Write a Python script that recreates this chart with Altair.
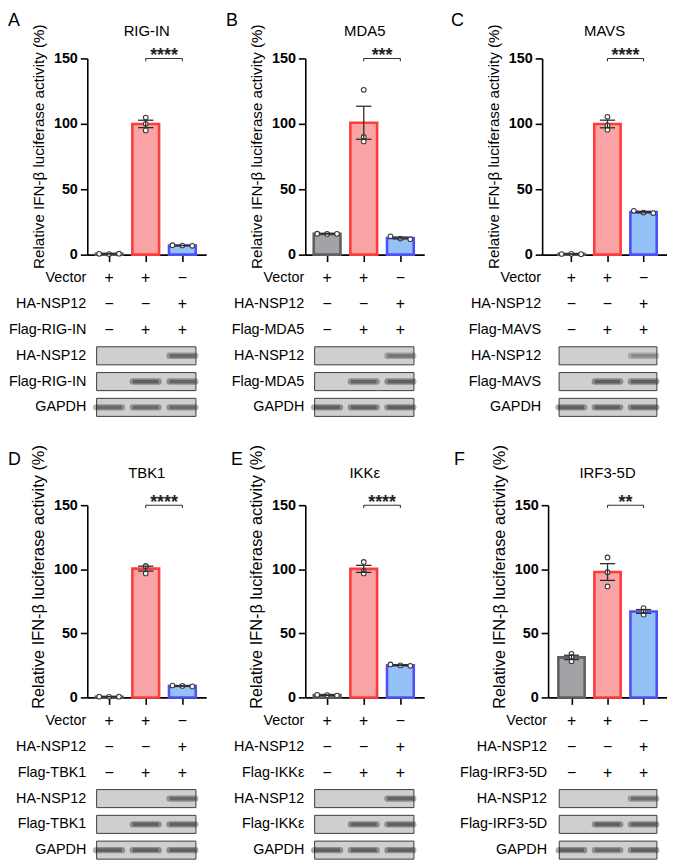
import altair as alt
import pandas as pd

FONT = "Liberation Sans, Arial, Helvetica, sans-serif"

# ---------------- data ----------------
panel_letters = ["A", "B", "C", "D", "E", "F"]
targets = ["RIG-IN", "MDA5", "MAVS", "TBK1", "IKKε", "IRF3-5D"]
stars = ["****", "***", "****", "****", "****", "**"]
sig_pair = [2, 3]

group_names = ["Vector", "Vector+Flag", "NSP12+Flag"]
lanes = [1, 2, 3]

rep_A = [[0.6, 0.5, 0.7], [104.8, 100.0, 95.0], [7.2, 7.0, 6.8]]
rep_B = [[16.0, 15.8, 15.9], [126.0, 90.0, 86.5], [14.0, 12.3, 11.8]]
rep_C = [[0.5, 0.6, 0.4], [105.4, 98.8, 95.5], [33.5, 32.2, 31.8]]
rep_D = [[0.6, 0.5, 0.6], [102.4, 102.4, 96.7], [9.3, 9.0, 8.6]]
rep_E = [[2.0, 1.8, 1.5], [105.7, 98.5, 96.7], [25.7, 25.0, 24.7]]
rep_F = [[34.0, 31.5, 28.2], [109.2, 97.7, 86.6], [69.7, 66.9, 64.6]]
replicates = [rep_A, rep_B, rep_C, rep_D, rep_E, rep_F]

vector_signs = ["+", "+", "−"]
nsp12_signs = ["−", "−", "+"]
flag_signs = ["−", "+", "+"]

ha_band = [[0, 0, 0.9], [0, 0, 0.75], [0, 0, 0.55], [0, 0, 0.9], [0, 0, 0.95], [0, 0, 0.85]]
flag_band = [[0, 1, 0.95], [0, 0.95, 1], [0, 1, 1], [0, 1, 1], [0, 1, 1], [0, 1, 1]]
gapdh_band = [[0.9, 0.9, 0.9], [1, 1, 1], [1, 1, 1], [1, 1, 1], [1, 1, 1], [1, 0.9, 1]]

YTITLE = "Relative IFN-β luciferase activity (%)"
y_ticks = [0, 50, 100, 150]

# ---------------- style / layout ----------------
fills = ["#a3a3a7", "#f9a3a4", "#94c2f8"]
strokes = ["#606060", "#ff3c3c", "#4f4ff5"]
YMAX = 150
XMAX = 3.65
BAR_HALF = 0.365
CAP_HALF = 0.21
JIT = 0.27
SPREAD_TOL = 5
BAND_HALF = 0.35
BOX_L, BOX_R = 0.66, 3.37
STEP = 26

x0s = [0.405, 0.405, 0.19, 0.405, 0.405, 0.35]
widths = [120, 120, 126, 120, 120, 120]
left_m = [80, 100, 119, 80, 100, 125]
letter_dx = [-80, -80, -92, -80, -75, -95]
bar_h = [198, 194]
top_anchor = [47, 64]
letter_top = [47, 55]
title_y = [-28, -32]
ytitle_size = [15.3, 16.5]
ytitle_center = [88.5, 72]

records = []
for p, reps in zip(panel_letters, replicates):
    for lane, g, vals in zip(lanes, group_names, reps):
        for v in vals:
            records.append(dict(panel=p, lane=lane, group=g, value=v))
points = pd.DataFrame(records)


def bar_chart(i, r):
    p = panel_letters[i]
    H, W = bar_h[r], widths[i]
    xs = alt.Scale(domain=[x0s[i], XMAX], nice=False, zero=False)
    ys = alt.Scale(domain=[0, YMAX], nice=False)
    x_axis = alt.Axis(values=lanes, labels=False, title=None, grid=False,
                      tickSize=7, tickWidth=1.6, tickColor="black",
                      domainColor="black", domainWidth=1.6)
    y_axis = alt.Axis(values=y_ticks, title=YTITLE, grid=False,
                      titleFont=FONT, titleFontSize=ytitle_size[r],
                      titleFontWeight="normal", titleColor="black",
                      titlePadding=7, titleY=ytitle_center[r],
                      labelFont=FONT, labelFontSize=14.5, labelFontWeight="bold",
                      labelColor="black", labelPadding=3,
                      tickSize=7, tickWidth=1.6, tickColor="black",
                      domainColor="black", domainWidth=1.6)

    def X(f):
        return alt.X(f, type="quantitative", scale=xs, axis=x_axis)

    def Y(f):
        return alt.Y(f, type="quantitative", scale=ys, axis=y_axis)

    def YD(v):
        return alt.YDatum(v, scale=ys, axis=y_axis)

    base = alt.Chart(points[points.panel == p])
    agg = base.transform_aggregate(
        mean="mean(value)", sem="stderr(value)", groupby=["lane", "group"]
    ).transform_calculate(
        xl=f"datum.lane - {BAR_HALF}", xr=f"datum.lane + {BAR_HALF}",
        lo="datum.mean - datum.sem", hi="datum.mean + datum.sem",
        cl=f"datum.lane - {CAP_HALF}", cr=f"datum.lane + {CAP_HALF}",
    )
    bars = agg.mark_rect(strokeWidth=2.6).encode(
        x=X("xl"), x2="xr:Q", y=Y("mean"), y2=alt.datum(0),
        fill=alt.Fill("group:N", scale=alt.Scale(domain=group_names, range=fills), legend=None),
        stroke=alt.Stroke("group:N", scale=alt.Scale(domain=group_names, range=strokes), legend=None),
    )
    pts = base.transform_joinaggregate(
        vmin="min(value)", vmax="max(value)", groupby=["lane"]
    ).transform_window(rk="row_number()", groupby=["lane"]).transform_calculate(
        px=f"datum.lane + ((datum.vmax - datum.vmin) < {SPREAD_TOL} ? (datum.rk - 2) * {JIT} : 0)"
    ).mark_point(shape="circle", size=22, fill="white", stroke="#3a3a3a",
                 strokeWidth=1.1, opacity=1).encode(x=X("px"), y=Y("value"))
    err = agg.mark_rule(color="#2e2e2e", strokeWidth=1.3).encode(
        x=X("lane"), y=Y("lo"), y2="hi:Q")
    cap_hi = agg.mark_rule(color="#2e2e2e", strokeWidth=1.3).encode(
        x=X("cl"), x2="cr:Q", y=Y("hi"))
    cap_lo = agg.mark_rule(color="#2e2e2e", strokeWidth=1.3).encode(
        x=X("cl"), x2="cr:Q", y=Y("lo"))

    sig = alt.Chart(pd.DataFrame({"a": [sig_pair[0]], "b": [sig_pair[1]], "stars": [stars[i]]}))
    bracket = sig.mark_rule(color="#333333", strokeWidth=1.1).encode(
        x=X("a"), x2="b:Q", y=YD(YMAX))
    ends = sig.transform_fold(["a", "b"], as_=["k", "xv"]).mark_rule(
        color="#333333", strokeWidth=1.1).encode(
        x=X("xv"), y=YD(YMAX), y2=alt.datum(YMAX - 2.2))
    star_txt = sig.transform_calculate(mx="(datum.a + datum.b) / 2").mark_text(
        font=FONT, fontSize=18, fontWeight="bold", baseline="alphabetic", dy=3,
        color="#222222").encode(x=X("mx"), y=YD(YMAX), text="stars:N")

    lab = alt.Chart(pd.DataFrame({"target": [targets[i]], "letter": [p]}))
    title_txt = lab.mark_text(font=FONT, fontSize=15, color="black",
                              align="center", baseline="middle").encode(
        x=alt.value(W / 2), y=alt.value(title_y[r]), text="target:N")
    letter_txt = lab.mark_text(font=FONT, fontSize=18, color="black",
                               align="left", baseline="top").encode(
        x=alt.value(letter_dx[i]), y=alt.value(-letter_top[r]), text="letter:N")
    anchor_tl = lab.mark_text(text=".", fontSize=8, opacity=0, align="left",
                              baseline="top").encode(
        x=alt.value(-left_m[i]), y=alt.value(-top_anchor[r]))
    anchor_b = lab.mark_text(text=".", fontSize=8, opacity=0, align="left",
                             baseline="bottom").encode(
        x=alt.value(0), y=alt.value(H + 15))

    return alt.layer(bars, pts, err, cap_hi, cap_lo, bracket, ends, star_txt,
                     title_txt, letter_txt, anchor_tl, anchor_b).properties(
        width=W, height=H)


def table_chart(i):
    t = targets[i]
    W = widths[i]
    rows = ["0|Vector", "1|HA-NSP12", f"2|Flag-{t}", "3|HA-NSP12", f"4|Flag-{t}", "5|GAPDH"]
    xs = alt.Scale(domain=[x0s[i], XMAX], nice=False, zero=False)
    ys = alt.Scale(domain=rows, paddingInner=0.3, paddingOuter=0)
    y_axis = alt.Axis(title=None, domain=False, ticks=False, grid=False,
                      labelPadding=1.5, labelFont=FONT, labelFontSize=14.5,
                      labelColor="black", labelLimit=300,
                      labelExpr="split(datum.value, '|')[1]")

    def X(f):
        return alt.X(f, type="quantitative", scale=xs, axis=None)

    def Y(f):
        return alt.Y(f, type="nominal", scale=ys, axis=y_axis, sort=rows)

    sign_rec = []
    for rk, signs in zip(rows[:3], [vector_signs, nsp12_signs, flag_signs]):
        for lane, s in zip(lanes, signs):
            sign_rec.append(dict(row=rk, lane=lane, sign=s))
    band_rec = []
    for rk, inten in zip(rows[3:], [ha_band[i], flag_band[i], gapdh_band[i]]):
        for lane, v in zip(lanes, inten):
            if v > 0:
                band_rec.append(dict(row=rk, lane=lane, inten=v))

    signs = alt.Chart(pd.DataFrame(sign_rec)).mark_text(
        font=FONT, fontSize=16, color="black", baseline="middle").encode(
        x=X("lane"), y=Y("row"), text="sign:N")
    boxes = alt.Chart(pd.DataFrame({"row": rows[3:]})).mark_rect(
        fill="#cfcfcf", stroke="#3c3c3c", strokeWidth=1).encode(
        x=alt.XDatum(BOX_L, scale=xs, axis=None), x2=alt.datum(BOX_R), y=Y("row"))
    bdf = alt.Chart(pd.DataFrame(band_rec)).transform_calculate(
        l=f"datum.lane - {BAND_HALF}", r=f"datum.lane + {BAND_HALF}")
    blur = bdf.mark_rule(color="#111111", strokeWidth=6.5, strokeCap="round").encode(
        x=X("l"), x2="r:Q", y=Y("row"),
        opacity=alt.Opacity("inten:Q", scale=alt.Scale(domain=[0, 1], range=[0, 0.35]), legend=None))
    core = bdf.mark_rule(color="#0c0c0c", strokeWidth=3.6).encode(
        x=X("l"), x2="r:Q", y=Y("row"),
        opacity=alt.Opacity("inten:Q", scale=alt.Scale(domain=[0, 1], range=[0, 1]), legend=None))
    anchor = alt.Chart(pd.DataFrame({"k": [0]})).mark_text(
        text=".", fontSize=8, opacity=0, align="left", baseline="top").encode(
        x=alt.value(-left_m[i]), y=alt.value(0))

    return alt.layer(boxes, blur, core, signs, anchor).properties(
        width=W, height=alt.Step(STEP))


def panel(i, r):
    return alt.vconcat(bar_chart(i, r), table_chart(i), spacing=0)


row1 = alt.hconcat(panel(0, 0), panel(1, 0), panel(2, 0), spacing=0)
row2 = alt.hconcat(panel(3, 1), panel(4, 1), panel(5, 1), spacing=0)

chart = alt.vconcat(row1, row2, spacing=24.8).properties(
    padding=0, background="white"
).configure_view(stroke=None)

chart.save("out.html", embed_options={"renderer": "svg", "actions": False})
